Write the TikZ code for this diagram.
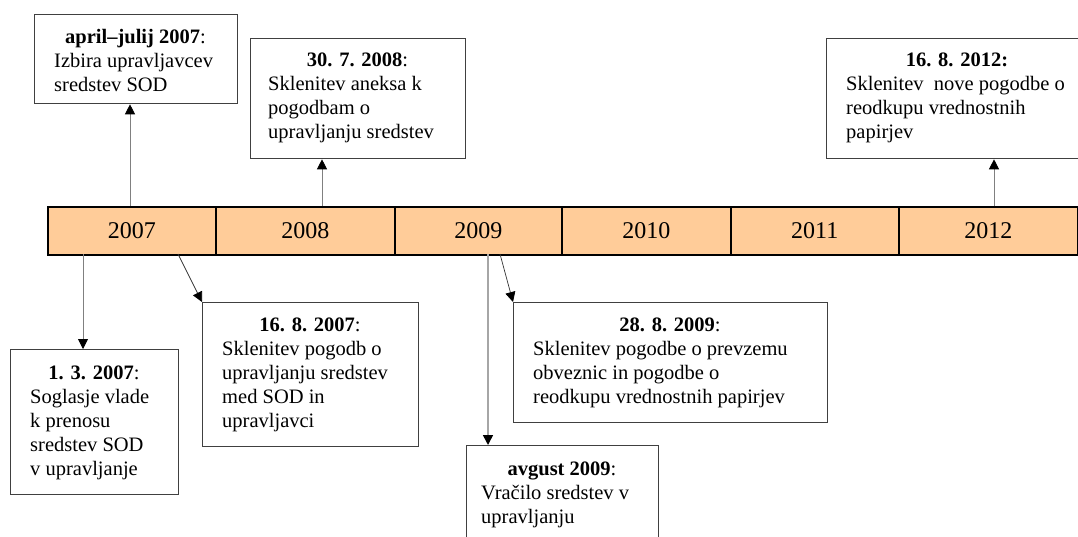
\documentclass[tikz,border=0pt]{standalone}
\usepackage{fontspec}
\setmainfont{Liberation Serif}
\usetikzlibrary{arrows.meta}
\definecolor{peach}{HTML}{FFCC99}
\definecolor{boxgray}{HTML}{404040}
\definecolor{linegray}{HTML}{808080}
\begin{document}
\begin{tikzpicture}[x=1pt,y=-1pt,
  evbox/.style={draw=boxgray,line width=1.3pt,fill=white,inner sep=0pt,anchor=north west},
  seg/.style={draw=black,line width=1.5pt,fill=peach,inner sep=0pt,anchor=north west,
    minimum height=48pt,font=\fontsize{24}{28}\selectfont},
  hd/.style={font=\fontsize{20.5}{24}\selectfont,anchor=base,inner sep=0pt},
  tx/.style={font=\fontsize{20.5}{24}\selectfont,anchor=base west,inner sep=0pt},
  conn/.style={draw=linegray,line width=0.9pt,-{Triangle[length=10pt,width=10pt,color=black]}},
  connd/.style={draw=black!80,line width=0.7pt,-{Triangle[length=10pt,width=10pt,color=black]}}]
\clip (0,0) rectangle (1078,536);
\fill[white] (0,0) rectangle (1078,536);

% timeline
\node[seg,minimum width=168pt] (y2007) at (47,206) {2007};
\node[seg,minimum width=179pt] (y2008) at (215,206) {2008};
\node[seg,minimum width=167pt] (y2009) at (394,206) {2009};
\node[seg,minimum width=169pt] (y2010) at (561,206) {2010};
\node[seg,minimum width=168pt] (y2011) at (730,206) {2011};
\node[seg,minimum width=179pt] (y2012) at (898,206) {2012};

% boxes
\node[evbox,minimum width=203pt,minimum height=89pt] (A) at (34,14) {};
\node[hd] (Ah) at (135.5,43) {\textbf{april–julij 2007}:};
\node[tx] (A1) at (54,67) {Izbira upravljavcev};
\node[tx] (A2) at (54,91) {sredstev SOD};

\node[evbox,minimum width=215pt,minimum height=120pt] (B) at (250,38) {};
\node[hd] (Bh) at (357.5,66) {\textbf{30. 7. 2008}:};
\node[tx] (B1) at (268,90) {Sklenitev aneksa k};
\node[tx] (B2) at (268,114) {pogodbam o};
\node[tx] (B3) at (268,138) {upravljanju sredstev};

\node[evbox,minimum width=262pt,minimum height=120pt] (F) at (826,38) {};
\node[hd] (Fh) at (957,66) {\textbf{16. 8. 2012:}};
\node[tx] (F1) at (846,90) {Sklenitev\ \ nove pogodbe o};
\node[tx] (F2) at (846,114) {reodkupu vrednostnih};
\node[tx] (F3) at (846,138) {papirjev};

\node[evbox,minimum width=168pt,minimum height=145pt] (C) at (10,349) {};
\node[hd] (Ch) at (94,379) {\textbf{1. 3. 2007}:};
\node[tx] (C1) at (30,403) {Soglasje vlade};
\node[tx] (C2) at (30,427) {k prenosu};
\node[tx] (C3) at (30,451) {sredstev SOD};
\node[tx] (C4) at (30,475) {v upravljanje};

\node[evbox,minimum width=216pt,minimum height=144pt] (D) at (202,302) {};
\node[hd] (Dh) at (310,331) {\textbf{16. 8. 2007}:};
\node[tx] (D1) at (222,355) {Sklenitev pogodb o};
\node[tx] (D2) at (222,379) {upravljanju sredstev};
\node[tx] (D3) at (222,403) {med SOD in};
\node[tx] (D4) at (222,427) {upravljavci};

\node[evbox,minimum width=314pt,minimum height=120pt] (E) at (513,302) {};
\node[hd] (Eh) at (670,331) {\textbf{28. 8. 2009}:};
\node[tx] (E1) at (533,355) {Sklenitev pogodbe o prevzemu};
\node[tx] (E2) at (533,379) {obveznic in pogodbe o};
\node[tx] (E3) at (533,403) {reodkupu vrednostnih papirjev};

\node[evbox,minimum width=192pt,minimum height=110pt] (G) at (466,445) {};
\node[hd] (Gh) at (562,475) {\textbf{avgust 2009}:};
\node[tx] (G1) at (481,499) {Vračilo sredstev v};
\node[tx] (G2) at (481,523) {upravljanju};

% connectors
\coordinate (pA) at (130,206);
\coordinate (pB) at (322,206);
\coordinate (pF) at (994,206);
\coordinate (pC) at (83,254);
\coordinate (pD) at (178,254);
\coordinate (pE) at (500,254);
\coordinate (pG) at (488,254);
\draw[conn] (pA) -- (pA |- A.south);
\draw[conn] (pB) -- (pB |- B.south);
\draw[conn] (pF) -- (pF |- F.south);
\draw[conn] (pC) -- (pC |- C.north);
\draw[connd] (pD) -- (D.north west);
\draw[connd] (pE) -- (E.north west);
\draw[conn,draw=black!35,line width=1.6pt] (pG) -- (pG |- G.north);
\end{tikzpicture}
\end{document}
